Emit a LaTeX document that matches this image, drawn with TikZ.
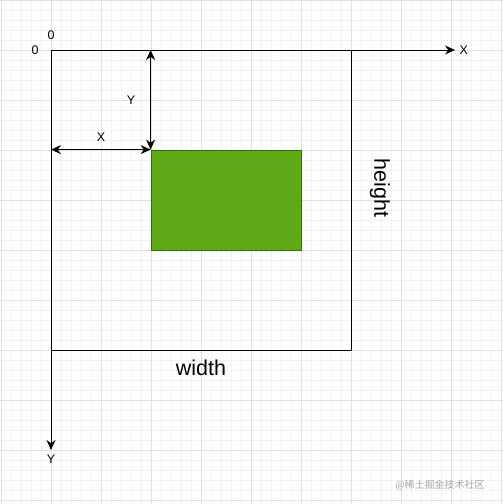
\documentclass[tikz,border=0pt]{standalone}
\usepackage{fontspec}
\setmainfont{Liberation Sans}
\newfontfamily\cjkfont{Noto Sans CJK SC}
\usetikzlibrary{arrows.meta}

\begin{document}
\begin{tikzpicture}[x=1pt,y=-1pt,line width=1pt,
  axis/.style={-{Stealth[length=10pt,width=9pt]}},
  dim/.style={{Stealth[length=10pt,width=9pt]}-{Stealth[length=10pt,width=9pt]}},
  small/.style={font=\fontsize{12.5}{14}\selectfont},
  big/.style={font=\fontsize{21.5}{24}\selectfont}]

% Background grid
\useasboundingbox (0,0) rectangle (503,504);
\fill[white] (0,0) rectangle (503,504);
\foreach \i in {1,11,...,501} {\draw[line width=0.6pt,black!5] (\i,0) -- (\i,504);}
\foreach \i in {0,10,...,500} {\draw[line width=0.6pt,black!5] (0,\i) -- (503,\i);}
\foreach \i in {1,51,...,501} {\draw[line width=0.6pt,black!12] (\i,0) -- (\i,504);}
\foreach \i in {0,50,...,500} {\draw[line width=0.6pt,black!12] (0,\i) -- (503,\i);}

% Define coordinates
\coordinate (O) at (51,50);
\coordinate (xend) at (455,50);
\coordinate (yend) at (51,450);
\coordinate (far) at (351,350);

% Outer frame and inner box
\draw (O) rectangle (far);
\node[draw={rgb,255:red,45;green,118;blue,0},fill={rgb,255:red,96;green,169;blue,23},
  minimum width=150pt,minimum height=100pt,inner sep=0pt,line width=0.8pt] (box) at (226,200) {};

% Axes
\draw[axis] (O) -- (xend) node[right,small,inner sep=4pt] {X};
\draw[axis] (O) -- (yend) node[below,small,inner sep=4pt] {Y};
\node[small] (ox) at (35,50) {0};
\node[small] (oy) at (51,35) {0};

% Offsets of the box
\draw[dim] (box.north west -| O) -- (box.north west);
\draw[dim] (box.north west |- O) -- (box.north west);
\node[small] (lx) at (101,137) {X};
\node[small] (ly) at (131,100) {Y};

% Size labels
\node[big,rotate=-90] (lh) at (380,188) {height};
\node[big] (lw) at (201,368) {width};

% Watermark
\node[font=\cjkfont\fontsize{10}{12}\selectfont,text=black!35] (wm) at (440,485) {@稀土掘金技术社区};

\end{tikzpicture}
\end{document}
